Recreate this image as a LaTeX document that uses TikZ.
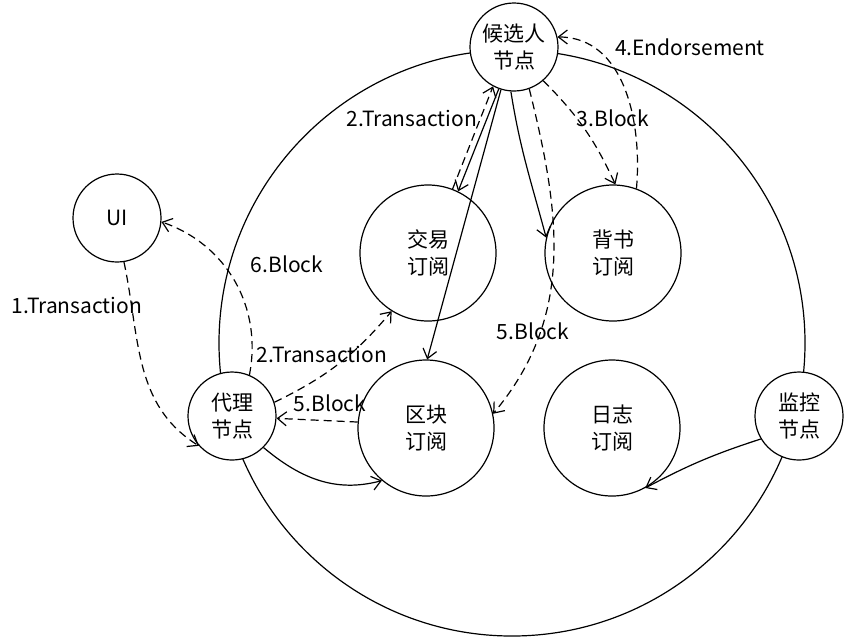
\documentclass[tikz,border=0pt]{standalone}
\usepackage{fontspec}
\setmainfont{Noto Sans CJK SC}
\usetikzlibrary{arrows.meta}
\begin{document}
\begin{tikzpicture}[x=0.5pt,y=0.5pt,
  >={Straight Barb[length=4.5pt,width=7pt]},
  every node/.style={font=\fontsize{10.5}{13.5}\selectfont},
  peer/.style={circle,draw,fill=white,semithick,minimum size=44pt,inner sep=0pt,align=center},
  sub/.style={circle,draw,fill=white,semithick,minimum size=68pt,inner sep=0pt,align=center},
  msg/.style={semithick,dash pattern=on 4pt off 2.5pt,->},
  call/.style={semithick,->},
  lbl/.style={font=\fontsize{10.5}{12}\selectfont,inner sep=1pt}]
\useasboundingbox (0,0) rectangle (845,-639);
\draw[semithick] (512,-343) circle[radius=146.5pt];
%
\node[peer] (cand) at (514,-47) {候选人\\节点};
\node[peer] (ui) at (117,-218) {UI};
\node[peer] (proxy) at (232,-416) {代理\\节点};
\node[peer] (monitor) at (799,-416) {监控\\节点};
\node[sub] (trade) at (428,-253) {交易\\订阅};
\node[sub] (endorse) at (613,-253) {背书\\订阅};
\node[sub] (block) at (426,-428) {区块\\订阅};
\node[sub] (log) at (612,-428) {日志\\订阅};
%
\draw[msg] (ui.-81) to[out=-78,in=148] (proxy.222);
\draw[msg] (proxy.67) to[out=79,in=-19] (ui.-5);
\draw[msg] (proxy.18) to[bend right=12] (trade.238);
\draw[call] (proxy.-45) to[out=-40,in=195] (block.230);
\draw[msg] (block.175) -- (proxy.-3);
\draw[msg] (trade.69) -- (cand.242);
\draw[call] (cand.250) -- (trade.64);
\draw[call] (cand.253) -- (block.89);
\draw[call] (cand.266) to[out=-81,in=105] (endorse.167);
\draw[msg] (cand.-49) to[bend left=10] (endorse.88);
\draw[msg] (endorse.70) to[out=85,in=0] (cand.13);
\draw[msg] (cand.-70) to[out=-76,in=50] (block.12);
\draw[call] (monitor.211) to[bend right=5] (log.-61);
%
\node[lbl] (t1) at (77,-305) {1.Transaction};
\node[lbl] (t6) at (287,-264) {6.Block};
\node[lbl] (t2a) at (322,-354) {2.Transaction};
\node[lbl] (t5a) at (330,-403) {5.Block};
\node[lbl] (t2b) at (412,-118) {2.Transaction};
\node[lbl] (t3) at (613,-118) {3.Block};
\node[lbl] (t4) at (690,-47) {4.Endorsement};
\node[lbl] (t5b) at (533,-331) {5.Block};
\end{tikzpicture}
\end{document}
